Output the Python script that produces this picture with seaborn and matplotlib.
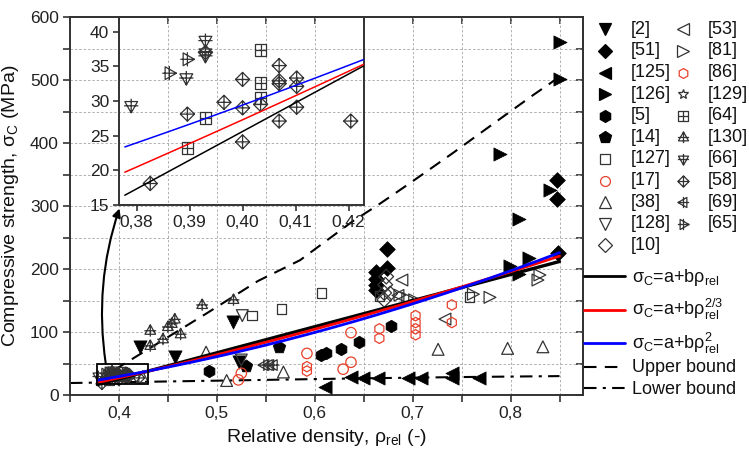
import numpy as np
import pandas as pd
import matplotlib
matplotlib.use("Agg")
import matplotlib.pyplot as plt
import seaborn as sns
from matplotlib.path import Path
from matplotlib.lines import Line2D
from matplotlib.patches import Rectangle
from matplotlib.ticker import FuncFormatter, MultipleLocator

# ---------------------------------------------------------------- data
ref2_x = [0.421, 0.457, 0.517, 0.523]
ref2_y = [76.7, 60.0, 115.6, 53.0]
ref51_x = [0.663, 0.663, 0.663, 0.663, 0.674, 0.674, 0.847, 0.847, 0.848]
ref51_y = [196, 184, 175, 166, 231, 201, 341, 311, 226]
ref125_x = [0.610, 0.637, 0.649, 0.665, 0.695, 0.709, 0.740, 0.740, 0.768]
ref125_y = [12.5, 29, 26.5, 26.5, 27.5, 27.5, 35, 26.5, 27.5]
ref126_x = [0.851, 0.851, 0.789, 0.809, 0.840, 0.799, 0.819, 0.809]
ref126_y = [561, 501, 382, 280, 326, 204, 217, 192]
ref5_x = [0.492, 0.606, 0.611, 0.627, 0.645, 0.678]
ref5_y = [37.5, 63.5, 66, 73.5, 84, 110]
ref14_x = [0.530, 0.563]
ref14_y = [46.5, 76]
ref127_x = [0.536, 0.566, 0.607, 0.666, 0.758]
ref127_y = [126, 136, 162, 157, 155]
ref17_x = [0.522, 0.525, 0.592, 0.629, 0.637, 0.637]
ref17_y = [24, 34.5, 66, 41, 52, 99]
ref38_x = [0.424, 0.489, 0.510, 0.568, 0.726, 0.797, 0.833]
ref38_y = [29, 68, 23, 36.5, 72.5, 74, 76.5]
ref128_x = [0.526, 0.525]
ref128_y = [126, 55.5]
ref10_x = [0.673, 0.672, 0.671, 0.677, 0.671]
ref10_y = [188, 175, 162, 161, 151]
ref53_x = [0.689, 0.685, 0.733]
ref53_y = [182.5, 158, 120.5]
ref81_x = [0.687, 0.695, 0.702, 0.762, 0.779, 0.828, 0.830]
ref81_y = [158.5, 153.5, 151, 160, 155, 182.5, 190.5]
ref86_x = [0.592, 0.592, 0.666, 0.666, 0.703, 0.703, 0.703, 0.703, 0.740, 0.740]
ref86_y = [45, 38, 105, 90, 126, 115, 105, 95.5, 143, 115]
ref129_x = [0.393]
ref129_y = [37.2]
ref64_x = [0.3896, 0.393, 0.4034, 0.4034, 0.4034]
ref64_y = [23.2, 27.5, 37.3, 32.6, 30.4]
ref130_x = [0.485, 0.517, 0.457, 0.454, 0.450, 0.432, 0.445, 0.463, 0.432]
ref130_y = [143, 151, 120, 113, 108, 102, 88.5, 96.5, 78]
ref66_x = [0.379, 0.3894, 0.393, 0.393]
ref66_y = [29.3, 33.3, 38.7, 36.5]
ref58_x = [0.3826, 0.3896, 0.393, 0.3965, 0.400, 0.400, 0.400, 0.4034,
           0.4069, 0.4069, 0.4069, 0.4069, 0.4102, 0.4102, 0.4102, 0.4204]
ref58_y = [18.1, 28.1, 37.0, 29.8, 33.1, 29.0, 24.1, 29.5,
           35.1, 32.9, 32.5, 27.1, 33.3, 32.1, 29.1, 27.1]
ref69_x = [0.548, 0.553, 0.558]
ref69_y = [47.5, 47.5, 47.5]
ref65_x = [0.3862, 0.3896]
ref65_y = [34.0, 36.0]

# fitted models  sigma = a + b * rho**n
fit_range = [0.378, 0.85]
fit_lin = (-140.0, 414.0, 1.0)
fit_pow = (-64.8, 364.0, 1.5)
fit_sq = (-26.5, 349.4, 2.0)

# bounds
upper_x = [0.377, 0.406, 0.490, 0.542, 0.585, 0.639, 0.665, 0.697, 0.741, 0.789, 0.823, 0.850]
upper_y = [22, 50, 130, 181, 214, 276, 302, 336, 384, 438, 476, 505]
lower_x = [0.35, 0.45, 0.55, 0.65, 0.75, 0.85]
lower_y = [19, 21.5, 24, 26.5, 28.5, 30]

# ---------------------------------------------------------------- style
sns.set_theme(style="white")
plt.rcParams["font.family"] = ["Liberation Sans", "DejaVu Sans"]
plt.rcParams["mathtext.fontset"] = "custom"
plt.rcParams["mathtext.rm"] = "Liberation Sans"
plt.rcParams["mathtext.it"] = "Liberation Sans:italic"
plt.rcParams["mathtext.default"] = "regular"


def crossed(poly):
    """Closed polygon with a plus sign through its centre."""
    verts = list(poly) + [poly[0], (-1, 0), (1, 0), (0, -1), (0, 1)]
    codes = ([Path.MOVETO] + [Path.LINETO] * (len(poly) - 1) + [Path.CLOSEPOLY]
             + [Path.MOVETO, Path.LINETO, Path.MOVETO, Path.LINETO])
    return Path(verts, codes)


sq_plus = crossed([(-1, -1), (1, -1), (1, 1), (-1, 1)])
dia_plus = crossed([(0, 1), (1, 0), (0, -1), (-1, 0)])
up_plus = crossed([(0, 1), (-0.9, -0.6), (0.9, -0.6)])
down_plus = crossed([(0, -1), (0.9, 0.6), (-0.9, 0.6)])
left_plus = crossed([(-1, 0), (0.6, 0.9), (0.6, -0.9)])
right_plus = crossed([(1, 0), (-0.6, 0.9), (-0.6, -0.9)])

RED = "#e8402a"
GREY = "#333333"
# label, x, y, marker, filled, colour, size (pt)
series = [
    ("[2]", ref2_x, ref2_y, "v", True, "black", 9.5),
    ("[51]", ref51_x, ref51_y, "D", True, "black", 8),
    ("[125]", ref125_x, ref125_y, "<", True, "black", 9.5),
    ("[126]", ref126_x, ref126_y, ">", True, "black", 9.5),
    ("[5]", ref5_x, ref5_y, "h", True, "black", 9),
    ("[14]", ref14_x, ref14_y, "p", True, "black", 9.5),
    ("[127]", ref127_x, ref127_y, "s", False, GREY, 7),
    ("[17]", ref17_x, ref17_y, "o", False, RED, 7.5),
    ("[38]", ref38_x, ref38_y, "^", False, GREY, 8.5),
    ("[128]", ref128_x, ref128_y, "v", False, GREY, 8.5),
    ("[10]", ref10_x, ref10_y, "D", False, GREY, 7.5),
    ("[53]", ref53_x, ref53_y, "<", False, GREY, 8.5),
    ("[81]", ref81_x, ref81_y, ">", False, GREY, 8.5),
    ("[86]", ref86_x, ref86_y, "h", False, RED, 7.5),
    ("[129]", ref129_x, ref129_y, "*", False, GREY, 8),
    ("[64]", ref64_x, ref64_y, sq_plus, False, GREY, 7),
    ("[130]", ref130_x, ref130_y, up_plus, False, GREY, 8.5),
    ("[66]", ref66_x, ref66_y, down_plus, False, GREY, 8.5),
    ("[58]", ref58_x, ref58_y, dia_plus, False, GREY, 8.5),
    ("[69]", ref69_x, ref69_y, left_plus, False, GREY, 8.5),
    ("[65]", ref65_x, ref65_y, right_plus, False, GREY, 8.5),
]


def draw_series(ax, xs, ys, marker, filled, colour, size, scale=1.0):
    df = pd.DataFrame({"rho": xs, "sigma": ys})
    s = (size * scale) ** 2
    if filled:
        sns.scatterplot(data=df, x="rho", y="sigma", ax=ax, marker=marker, s=s,
                        color=colour, edgecolor=colour, linewidth=0.5,
                        legend=False, zorder=3, clip_on=False)
    else:
        sns.scatterplot(data=df, x="rho", y="sigma", ax=ax, marker=marker, s=s,
                        color=colour, facecolor="none", edgecolor=colour,
                        linewidth=0.9, legend=False, zorder=3, clip_on=False)


def model(coef, x):
    a, b, n = coef
    return a + b * np.power(x, n)


W, H = 749, 453
fig = plt.figure(figsize=(W / 100, H / 100), dpi=100)


def fx(px):
    return px / W


def fy(py):
    return 1 - py / H


ax = fig.add_axes([fx(70), fy(395), fx(583) - fx(70), fy(17) - fy(395)])
ax.set_xlim(0.35, 0.874)
ax.set_ylim(0, 600)

grid_kw = dict(color="#b0b0b0", lw=0.7, ls=(0, (2.5, 2)))
ax.xaxis.set_major_locator(MultipleLocator(0.1))
ax.xaxis.set_minor_locator(MultipleLocator(0.05))
ax.yaxis.set_major_locator(MultipleLocator(100))
ax.yaxis.set_minor_locator(MultipleLocator(50))
ax.grid(True, which="both", **grid_kw)
ax.set_axisbelow(True)

for lab, xs, ys, mk, filled, col, sz in series:
    draw_series(ax, xs, ys, mk, filled, col, sz)

xf = np.linspace(fit_range[0], fit_range[1], 200)
ax.plot(xf, model(fit_lin, xf), color="black", lw=2.4, zorder=4)
ax.plot(xf, model(fit_pow, xf), color="red", lw=2.0, zorder=4)
ax.plot(xf, model(fit_sq, xf), color="blue", lw=2.0, zorder=4)
sns.lineplot(x=upper_x, y=upper_y, ax=ax, color="black", lw=1.5,
             estimator=None, zorder=2)
ax.lines[-1].set_dashes((6, 4))
sns.lineplot(x=lower_x, y=lower_y, ax=ax, color="black", lw=1.5,
             estimator=None, zorder=2)
ax.lines[-1].set_dashes((6, 3, 1.5, 3))

ax.add_patch(Rectangle((0.378, 17), 0.052, 32, fill=False, ec="black",
                       lw=1.3, zorder=5))

spine_col = "#333333"
for sp in ax.spines.values():
    sp.set_color(spine_col)
    sp.set_linewidth(1.4)
ax.tick_params(which="both", direction="out", length=5, width=1.2,
               color=spine_col, labelsize=12.5, labelcolor="#222222",
               bottom=True, left=True, pad=3)
ax.xaxis.set_major_formatter(FuncFormatter(lambda v, _: f"{v:.1f}".replace(".", ",")))

# mirrored inward ticks on top and right
top = ax.secondary_xaxis("top")
top.xaxis.set_major_locator(MultipleLocator(0.05))
top.tick_params(direction="in", length=5, width=1.2, color=spine_col, labeltop=False)
right = ax.secondary_yaxis("right")
right.yaxis.set_major_locator(MultipleLocator(50))
right.tick_params(direction="in", length=5, width=1.2, color=spine_col, labelright=False)
for sec in (top, right):
    for sp in sec.spines.values():
        sp.set_color(spine_col)
        sp.set_linewidth(1.4)

ax.set_xlabel(r"Relative density, $\rho_{rel}$ (-)", fontsize=14, color="#111111")
ax.set_ylabel(r"Compressive strength, $\sigma_C$ (MPa)", fontsize=14, color="#111111")
ax.xaxis.set_label_coords(0.5, -0.085)
ax.yaxis.set_label_coords(-0.095, 0.5)

# ---------------------------------------------------------------- inset
ins = fig.add_axes([fx(119), fy(205), fx(364) - fx(119), fy(17) - fy(205)])
ins.patch.set_alpha(0)
ins.set_xlim(0.3767, 0.4229)
ins.set_ylim(15, 42.1)
ins.xaxis.set_major_locator(MultipleLocator(0.01))
ins.yaxis.set_major_locator(MultipleLocator(5))
for lab, xs, ys, mk, filled, col, sz in series:
    inside = [(a, b) for a, b in zip(xs, ys) if 0.3767 <= a <= 0.4229 and 15 <= b <= 42]
    if inside:
        draw_series(ins, [p[0] for p in inside], [p[1] for p in inside],
                    mk, filled, col, sz, scale=1.2)
xi = np.linspace(0.3778, 0.4229, 100)
ins.plot(xi, model(fit_lin, xi), color="black", lw=1.1, zorder=4)
ins.plot(xi, model(fit_pow, xi), color="red", lw=1.1, zorder=4)
ins.plot(xi, model(fit_sq, xi), color="blue", lw=1.1, zorder=4)
ins.set_xlabel("")
ins.set_ylabel("")
for sp in ins.spines.values():
    sp.set_color(spine_col)
    sp.set_linewidth(1.4)
ins.tick_params(which="both", direction="out", length=4, width=1.2,
                color=spine_col, labelsize=12.5, labelcolor="#222222",
                bottom=True, left=True, pad=3)
ins.xaxis.set_major_formatter(FuncFormatter(lambda v, _: f"{v:.2f}".replace(".", ",")))

# arrow from the zoom box to the inset
ax.annotate("", xy=(0.4005, 296), xytext=(0.3865, 50),
            arrowprops=dict(arrowstyle="-|>", color="black", lw=1.5,
                            connectionstyle="arc3,rad=-0.12",
                            mutation_scale=12, shrinkA=0, shrinkB=0),
            zorder=6)

# ---------------------------------------------------------------- legend
row0, pitch = 29.3, 21.6
for i, (lab, xs, ys, mk, filled, col, sz) in enumerate(series):
    c, r = divmod(i, 11)
    mx = 605 if c == 0 else 683
    tx = 631 if c == 0 else 708
    py = row0 + r * pitch
    fig.add_artist(Line2D([fx(mx)], [fy(py)], transform=fig.transFigure,
                          marker=mk, ls="none", markersize=sz * 0.95,
                          mfc=col if filled else "none", mec=col, mew=0.9))
    fig.text(fx(tx), fy(py), lab, fontsize=13, va="center", ha="left", color="#111111")

line_entries = [
    (276, dict(color="black", lw=2.0), r"$\sigma_C$=a+b$\rho_{rel}$"),
    (310, dict(color="red", lw=2.0), r"$\sigma_C$=a+b$\rho_{rel}^{2/3}$"),
    (343, dict(color="blue", lw=2.0), r"$\sigma_C$=a+b$\rho_{rel}^{2}$"),
    (367, dict(color="black", lw=1.5, dashes=(6, 4)), "Upper bound"),
    (388, dict(color="black", lw=1.5, dashes=(6, 3, 1.5, 3)), "Lower bound"),
]
for py, kw, lab in line_entries:
    fig.add_artist(Line2D([fx(584), fx(625)], [fy(py), fy(py)],
                          transform=fig.transFigure, **kw))
    fig.text(fx(632), fy(py + 5.5), lab, fontsize=13, va="baseline",
             ha="left", color="#111111")

fig.savefig("out.png", dpi=100)
